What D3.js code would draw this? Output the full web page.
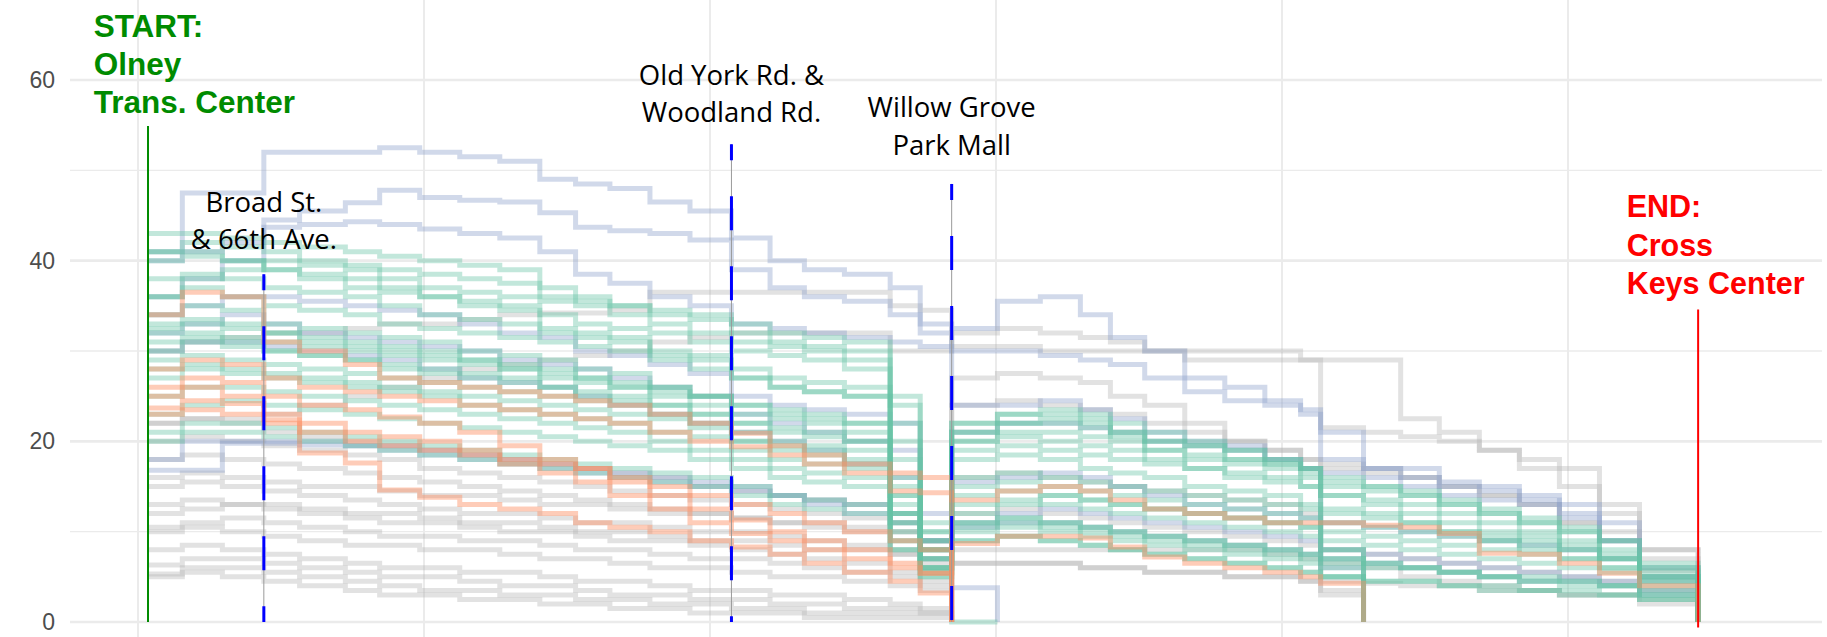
<!DOCTYPE html>
<html>
<head>
<meta charset="utf-8">
<script src="https://cdn.jsdelivr.net/npm/d3@7"></script>
<style>
  html, body { margin: 0; padding: 0; background: #ffffff; overflow: hidden; }
</style>
</head>
<body>
<script>
// ---------------- DATA ----------------
// stop positions along the route (miles from start)
const stopMiles = [0.07,0.31,0.59,0.88,1.13,1.45,1.69,1.97,2.25,2.53,
  2.81,3.06,3.30,3.58,3.86,4.15,4.42,4.66,4.94,5.26,
  5.47,5.69,6.01,6.31,6.59,6.80,7.04,7.32,7.60,7.88,
  8.13,8.27,8.57,8.83,9.10,9.38,9.66,9.94,10.22,10.50,10.91];

const yTicks = [0, 20, 40, 60];
const xGrid = [0, 2, 4, 6, 8, 10];

// passenger load per trip at each stop (gray trips)
const grayTrips = [
  [30,31,31.5,32,32,32.5,33,33,33.5,34, 34.2,34.2,34.5,36.5,36.5,36.5,36.5,36.5,36.5,35, 34.5,30.5,30.5,30,30,30,30,30,30,30, 29,21.5,21,20.5,20,19,18,17,13,8,0],
  [22,22.5,22.5,23,24,25,26,27,28,28.5, 29,29.5,30,31,31.5,32,32,32,32,30, 30,32,32.5,32,31.5,31,30,29,29,29, 29,29,29,22.5,21,19,17,15,12,5.7,0],
  [16,16.5,16,15.5,15,15,14.5,14,14,13.5, 13,13,12.5,12,12,11.5,11,11,10.5,10, 9,27,27.5,27,26.5,25,24,22,20,19, 18,17.5,17,16,15,14,13,11,9,7,0],
  [15,15.5,15,14.5,14,13.5,13,12.5,12,12, 11.5,11,11,10.5,10,10,9.5,9,8.5,7.5, 6.5,6.5,6.5,6.5,6,6,5.5,5.5,5,5, 4.5,4.5,4.3,4,4,3.5,3.5,3,3,2.5,0],
  [13,13.5,13,12.5,12,11.5,11,11,10.5,10, 10,9.5,9,9,8.5,8,7.5,7,6.5,5.5, 4.5,8,8,8,8,8,8,8,8,7.5, 7,6.5,6,5,4.5,4,3.5,3,3,2,0],
  [10.5,11,11.5,11,10.5,10,9.5,9.5,9,9, 8.5,8,8,7.5,7,7,6.5,6,5.5,5, 4,0],
  [10,10.5,10,9.5,9,8.5,8.5,8,8,7.5, 7,7,6.5,6,6,5.5,5,5,4.5,4, 3.5,0],
  [8,8.5,8,7.5,7,6.5,6,6,5.5,5.5, 5,4.5,4.5,4,3.5,3.5,3,3,2.5,2, 1.5,0],
  [6.3,7,7,6.5,6,5.5,5,5,4.5,4, 4,3.5,3,3,2.5,2.5,2,2,1.5,1.5, 1,0],
  [5.3,6,6,5.5,5,4.5,4,3.5,3.5,3, 3,2.5,2.5,2,2,1.5,1.5,1,1,1, 1,0],
  [5,5.5,5,4.5,4,3.5,3,3,2.5,2.5, 2,2,1.5,1.5,1,1,1,0.5,0.5,0.5, 0.5,0],
  [20,20.5,20,19.5,19,18.5,18,17,16.5,16, 15.5,15,14.5,14,13.5,13,12.5,12,11.5,10, 9,12,12.5,12,11.5,11,10.5,10,9.5,9, 8.5,8,7.5,7,6.5,6,5.5,5,4.5,3.5,0],
  [22,22.5,22,21,20.5,20,19.5,19,18.5,18, 17.5,17,16.5,16,15,14.5,14,13.5,13,11, 9,16,16.5,16,15.5,15,14.5,14,13.5,13, 12,3.5,0],
  [18,18.5,18,17.5,17,16.5,16,15.5,15,14.5, 14,13.5,13,12.5,12,11.5,11,10.5,10,8, 6,6.5,6.5,6.5,6,6,5.5,5.5,5,5, 4.5,3,0],
  [12,12.5,13,13,12.5,12,12,11.5,11,11, 10.5,10,10,9.5,9,9,8.5,8,8,7.5, 7,24,24.5,24,23.5,23,22,21,20,19, 18,17,16.5,16,15,14,13,11,10,8,0]
];

const blueTrips = [
  [41,47.5,47.5,52,52,52,52.5,52,51.5,51, 49,48.5,48,46.5,45.5,42.5,40,39,38.5,37, 33,32.5,35.5,36,34,31.5,30,27,26,24.5, 23.5,18,17,17,15,14.5,13.5,12,9,5,0],
  [40,41,42,44.5,45.5,46.4,47.8,47,46.7,46.5, 45.3,43.7,43.3,43,42.3,39,37,36,35.5,34, 32,24,24,24.5,23.5,22.5,21,20,19.5,18, 17,16.5,16,15,14,13.5,13,11.5,9,5,0],
  [36,38,40,43.7,44,44.3,44,43.5,43,42.5, 41,38.5,37.5,36,35,33,32.5,32,31.5,31, 30.5,30,30,29.5,29,28.5,27,25.5,24.5,24, 23,21,17,16,15.5,15,14,13,11,6,0],
  [32,33,34,33,32,31.5,31,30.5,30,29, 28.5,28,27,26,25,23,22,21,20,19, 9,3.8,0],
  [30,31,31,30.5,30,29.5,29,28,27,26.5, 26,25,24,23,22,21,20,19,17.5,16, 8,15.5,16,16.5,16,15,14,13,12.5,12, 11.5,11,10.5,10,9.5,9,8.5,8,7,4.5,0],
  [18,20,20,20,20,19.5,19.5,19,18.5,18, 17.5,17,16.5,16,15.5,15,14,13,12,11, 9,11,12,12.5,12,11.5,11,10.5,10,9.5, 9,8,7.5,7,6.5,6,5.5,5,4.5,3.5,0],
  [34,35,36,36,35.5,35,34.5,34,33,32, 31.5,30,29.5,28.5,27.5,25,24,23.5,23,22, 12,21,22,22,21.5,21,20,19.5,19,18, 17,6,0],
  [16.8,16.8,19.8,19.8,19.6,19.5,19,18.5,18,17.5, 17,16.5,16,15.5,15,14.5,14,13.5,13,12, 7,10.5,11,11,10.5,10,9.5,9,8.5,8, 7.5,7,6.5,6,5.5,5,4.5,4.5,4,3,0]
];

const greenTrips = [
  [43,43,42.5,42,41.5,41,40.5,40,39.5,39, 36,35.5,35,34,33.5,32,31,30.5,30,25, 8,0,0],
  [41,42,41.5,41,40,39.5,39,38.5,38,37.5, 37,36,35,34.5,34,33,32,31.5,31,22, 9,22,23,23,22.5,21,19,18.5,18,17.5, 17,16,15,14,13,12,11,10,8,6,0],
  [41,41,40,39,38.5,38,37,36,35.5,35, 34,33,32.5,32,31,30,29.5,29,28,20, 8,21,22,22.5,22,20.5,20,19.5,18,17.5, 16.5,15.5,15,14.5,13.5,12.5,11.5,10.5,9,6.5,0],
  [40,40.5,40,39,38,37,36.5,36,35,34.5, 32,31.5,31,30,29.5,28,27,26.5,26,18, 10,20,20.5,20,19.5,19,18,17,16.5,16, 15,14,13,12,11,10,9.5,8.5,7,5,0],
  [38,38.5,38,37,36.5,36,35,34,33.5,33, 32.5,32,31.5,29,28,27,26,25.5,25,16, 7,18,18.5,18,17,16.5,16,15,14.5,14, 13,12.5,12,11,10,9.5,9,8,7,5,0],
  [36,37,36,35,34.5,34,33,32.5,32,31.5, 31,30.5,30,29.5,29,27,26,25.5,25,14, 6,15,15.5,15,14.5,14,13.5,13,12.5,12, 11.5,11,10.5,10,9.5,9,8,7,6,4.5,0],
  [34,35,34.5,33,32.5,32,31.5,31,30,29.5, 29,28,27.5,26,25,24,23,22.5,22,12, 8,11,11.5,11,10.5,10,9.5,9,8.5,8, 7.5,7,6.5,6,5.5,5,4.5,4.5,4,3.5,0],
  [33,33,32.5,32,31.5,31,30.5,30,29,28.5, 28,27,26.5,26,25,24,23.5,23,22,15, 9,10.5,11,10.5,10,9.5,9,8.5,8,7.5, 7,6.5,6,6,5.5,5,4.5,4,4,3,0],
  [32.5,33.5,33,32,31,30.5,30,29.5,29,28, 27.5,27,26,25.5,25,23,22.5,22,21,13, 7,12,13,14,13.5,13,12.5,12,11.5,11, 10.5,6,0],
  [32,32,31.5,31,30.5,30,29.5,29,28.5,28, 27,26.5,26,25,24,22,21.5,21,20,12, 6,22,23,23.5,23,22,21,20,19,18, 17,8,0],
  [31,31.5,31,30,29.5,29,28.5,28,27.5,27, 26,25.5,25,24,23,21,20,19.5,19,11, 5.5,9,9.5,9,8.5,8,7.5,7,6.5,6, 5.5,5,4.5,4.5,4,3.5,3.5,3,3,2.5,0],
  [30,31,30.5,30,29.5,29,28,27.5,27,26.5, 26,25,24.5,24,23,22,21,20.5,20,14, 10,19,19.5,19,18.5,18,17.5,17,16,15.5, 15,14,13.5,13,12,11,10,9,7.5,5.5,0],
  [29,29.5,29,28.5,28,27.5,27,26.5,26,25.5, 25,24.5,24,23,22,20,19.5,19,18,12, 7,13,13.5,13,12.5,12,11.5,11,10.5,10, 9.5,9,8.5,8,7.5,7,6.5,6,5.5,4,0],
  [28,28.5,28,27.5,27,26.5,26,25.5,25,24.5, 24,23.5,23,22.5,21.5,20,19,18.5,17.5,11, 8,10,10.5,10,9.5,9,8.5,8,7.5,7, 6.5,5,0],
  [27,28,27.5,27,26.5,26,25.5,25,24,23.5, 23,22.5,22,21,20.5,19,18,17.5,17,10, 6,16,16.5,16,15.5,15,14.5,14,13.5,13, 12.5,12,11.5,11,10,9,8.5,8,7,5,0],
  [25,26,26,25.5,25,24.5,24,23.5,23,22.5, 22,21.5,21,20,19,18,17,16.5,16,9, 5,11,11.5,11,10.5,10,9.5,9,8.5,8, 7.5,7,6.5,6,5.5,5,5,4.5,4,3,0],
  [23,24,24.5,24,23.5,23,22.5,22,21.5,21, 20.5,20,19.5,19,18,17,16,15.5,15,8, 6,20,21,21,20.5,20,19,18,17.5,17, 16,15,14.5,14,13,12,11,10,9,6,0],
  [21,22,22,21.5,21,20.5,20,19.5,19,18.5, 18,17.5,17,16.5,16,15,14,13.5,13,8, 5.5,9,9.5,9,8.5,8,7.5,7,6.5,6, 5.5,5,4.5,4.5,4,4,3.5,3.5,3,2.5,0],
  [20,21,21,20.5,20,19.5,19,18.5,18,17.5, 17,16.5,16,15.5,15,14,13,12.5,12,9, 5,14,14.5,14,13.5,13,12.5,12,11.5,11, 10.5,10,9.5,9,8.5,8,7.5,7,6,4.5,0],
  [36,38,39,40,39.5,39,38,37,36.5,36, 35.5,35,34,33,32,31,30.5,30,29,24, 11,21,22,22,21.5,21,20,19.5,19,18, 17,8,0]
];

const orangeTrips = [
  [34,36.5,36,31,30,28.5,27,26.5,26,25.5, 25,24.5,24,23,22,20.9,19.5,18.5,17.5,16.5, 16,13.5,14.5,15,14.5,13.5,12.5,12,11.5,11, 11,11,10.7,10.5,9.8,7.6,7.5,6.5,5.4,4,0],
  [28,29,28.5,27,26,25.5,25,24.5,24,23.5, 23,22.5,22,21,20,19.4,18.5,17.5,16.5,14.5, 14.3,0],
  [26,27,26.5,25,24,23.5,22.7,22,21,19.5, 18,17,15.5,14,12.5,11.3,10,9,8,6.5, 5.4,0],
  [25,26,25,23,22,21,20.5,20,19,17.5, 16.5,15.5,14,12.5,11,9.8,9,8,7,6, 5.4,8.7,9.5,9.5,9.3,8.3,7.2,6.5,6,5.5, 5,4.3,0],
  [23.7,24.5,24.2,22.4,18.7,17.6,14.6,13.8,13,12.5, 12,11,10.5,10,9,8.3,7.5,6.5,5.5,4.5, 3.2,0],
  [23,23.5,23,22,21,20,19.5,19,18.5,18, 17.5,17,16,15,14,13,12,11,10,9, 8,0]
];

// landmarks: name lines, position (miles), dashed-line top (load), label baseline (load)
const landmarkNames = [["Broad St.", "& 66th Ave."], ["Old York Rd. &", "Woodland Rd."], ["Willow Grove", "Park Mall"]];
const landmarkMiles = [0.88, 4.15, 5.69];
const landmarkTop = [38.5, 52.9, 48.5];
const landmarkLabelAt = [45.4, 59.45, 55.9];

const startLabel = ["START:", "Olney", "Trans. Center"];
const endLabel = ["END:", "Cross", "Keys Center"];

// ---------------- CHART ----------------
const W = 1827, H = 637;
const panel = { left: 70, right: 1822, top: 0, bottom: 637 };

const svg = d3.select("body").append("svg").attr("width", W).attr("height", H)
  .style("font-family", "'Liberation Sans', Arial, sans-serif");

const x = d3.scaleLinear().domain([0, 10]).range([138, 1568]);
const y = d3.scaleLinear().domain([0, 60]).range([622, 80]);

// grid
const grid = svg.append("g");
grid.selectAll("line.h").data(d3.range(0, 61, 10)).join("line")
  .attr("x1", panel.left).attr("x2", panel.right)
  .attr("y1", d => y(d)).attr("y2", d => y(d))
  .attr("stroke", "#ebebeb")
  .attr("stroke-width", d => d % 20 === 0 ? 2.6 : 1.3);
grid.selectAll("line.v").data(xGrid).join("line")
  .attr("x1", d => x(d)).attr("x2", d => x(d))
  .attr("y1", panel.top).attr("y2", panel.bottom)
  .attr("stroke", "#ebebeb").attr("stroke-width", 2);

// y axis
const yAxis = svg.append("g").attr("transform", `translate(${panel.left},0)`)
  .call(d3.axisLeft(y).tickValues(yTicks).tickSize(0).tickPadding(15));
yAxis.select(".domain").remove();
yAxis.selectAll("text").attr("font-size", 23).attr("fill", "#4d4d4d")
  .attr("font-family", "'Liberation Sans', Arial, sans-serif");

// trip lines
const line = d3.line()
  .x((d, i) => x(stopMiles[i]))
  .y(d => y(d))
  .curve(d3.curveStepAfter);

const groups = [
  { trips: grayTrips, color: "#b3b3b3", op: 0.38 },
  { trips: blueTrips, color: "#8da0cb", op: 0.4 },
  { trips: greenTrips, color: "#66c2a5", op: 0.4 },
  { trips: orangeTrips, color: "#fc8d62", op: 0.45 }
];
const trips = svg.append("g");
groups.forEach(g => {
  trips.append("g").selectAll("path").data(g.trips).join("path")
    .attr("d", line)
    .attr("fill", "none")
    .attr("stroke", g.color)
    .attr("stroke-opacity", g.op)
    .attr("stroke-width", 5)
    .attr("stroke-linejoin", "miter")
    .attr("stroke-linecap", "butt");
});

// landmark lines
const lm = svg.append("g");
landmarkMiles.forEach((m, i) => {
  lm.append("line")
    .attr("x1", x(m)).attr("x2", x(m))
    .attr("y1", y(landmarkTop[i])).attr("y2", y(0))
    .attr("stroke", "#9a9a9a").attr("stroke-width", 1);
  lm.append("line")
    .attr("x1", x(m)).attr("x2", x(m))
    .attr("y1", y(landmarkTop[i])).attr("y2", y(0))
    .attr("stroke", "#0000ff").attr("stroke-width", 3)
    .attr("stroke-dasharray", "34,36").attr("stroke-dashoffset", 18);
  const t = lm.append("text")
    .attr("x", x(m)).attr("y", y(landmarkLabelAt[i]))
    .attr("text-anchor", "middle")
    .attr("font-family", "'Open Sans', 'Noto Sans', sans-serif")
    .attr("font-size", 27.5)
    .attr("fill", "#000");
  landmarkNames[i].forEach((s, k) => {
    t.append("tspan").attr("x", x(m)).attr("dy", k === 0 ? 0 : 37.5).text(s);
  });
});

// start / end markers
const startMile = stopMiles[0], endMile = stopMiles[stopMiles.length - 1];
svg.append("line")
  .attr("x1", x(startMile)).attr("x2", x(startMile))
  .attr("y1", y(54.9)).attr("y2", y(0))
  .attr("stroke", "#008b00").attr("stroke-width", 2);
svg.append("line")
  .attr("x1", x(endMile)).attr("x2", x(endMile))
  .attr("y1", y(34.6)).attr("y2", y(-0.6))
  .attr("stroke", "#ff0000").attr("stroke-width", 2);

const st = svg.append("text")
  .attr("x", x(-0.31)).attr("y", y(64.8))
  .attr("font-weight", "bold").attr("font-size", 31.5).attr("fill", "#008b00");
startLabel.forEach((s, k) => st.append("tspan").attr("x", x(-0.31)).attr("dy", k === 0 ? 0 : 38).text(s));

const en = svg.append("text")
  .attr("x", x(10.41)).attr("y", y(44.8))
  .attr("font-weight", "bold").attr("font-size", 30.5).attr("fill", "#ff0000");
endLabel.forEach((s, k) => en.append("tspan").attr("x", x(10.41)).attr("dy", k === 0 ? 0 : 38.5).text(s));
</script>
</body>
</html>
